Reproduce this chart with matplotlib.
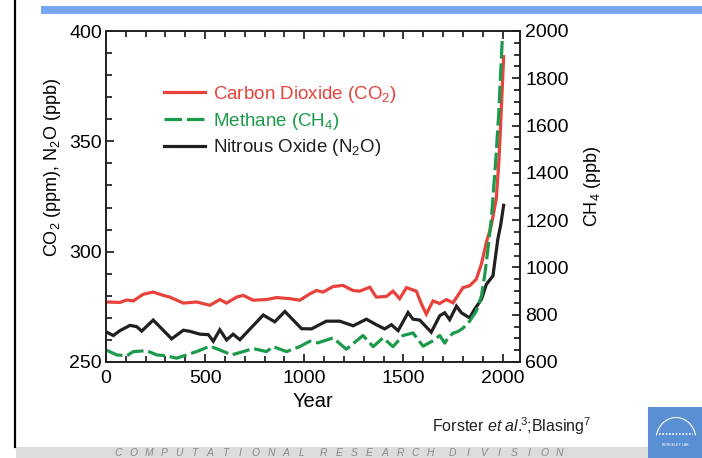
import matplotlib
matplotlib.use("Agg")
import matplotlib.pyplot as plt
from matplotlib.ticker import MultipleLocator
from matplotlib.patches import Rectangle, Arc
from matplotlib.lines import Line2D

plt.rcParams['font.family'] = ['Liberation Sans', 'DejaVu Sans']
plt.rcParams['mathtext.fontset'] = 'custom'
plt.rcParams['mathtext.rm'] = 'Liberation Sans'
plt.rcParams['mathtext.it'] = 'Liberation Sans:italic'
plt.rcParams['mathtext.bf'] = 'Liberation Sans:bold'

# ---------------- data ----------------
co2_years = [0, 70, 104, 138, 188, 238, 289, 322, 390, 457, 524, 574, 608, 658, 692,
             742, 809, 860, 927, 977, 1028, 1061, 1095, 1145, 1195, 1246, 1279, 1330,
             1363, 1414, 1447, 1481, 1515, 1565, 1590, 1615, 1649, 1682, 1716, 1750,
             1800, 1833, 1867, 1893, 1918, 1943, 1968, 1981, 1993, 2005]
co2 = [277.2, 277.0, 278.1, 277.7, 280.7, 281.7, 280.2, 279.4, 276.7, 277.2, 275.7,
       278.3, 276.7, 279.4, 280.2, 278.0, 278.3, 279.2, 278.7, 278.0, 280.9, 282.4,
       281.7, 284.2, 284.7, 282.4, 282.1, 283.9, 279.4, 279.7, 282.1, 278.7, 283.7,
       282.1, 276.4, 271.7, 277.7, 276.5, 278.3, 276.8, 283.7, 284.5, 287.5, 294.4,
       304.3, 311.9, 324.1, 340.9, 363.7, 388.4]

n2o_years = [0, 37, 70, 121, 155, 180, 238, 331, 390, 423, 474, 516, 541, 574, 608,
             641, 675, 793, 851, 902, 986, 1036, 1111, 1179, 1246, 1313, 1363, 1405,
             1439, 1473, 1523, 1548, 1582, 1640, 1683, 1708, 1733, 1767, 1792, 1833,
             1858, 1893, 1918, 1951, 1976, 1990, 2005]
n2o = [263.7, 262.0, 264.2, 266.6, 266.0, 264.0, 269.0, 260.5, 264.4, 263.9, 262.6,
       262.4, 259.4, 264.6, 260.0, 262.6, 260.1, 271.3, 268.2, 272.9, 265.1, 265.0,
       268.5, 268.5, 266.4, 269.4, 266.9, 265.0, 266.9, 264.2, 272.4, 269.4, 269.0,
       263.5, 271.0, 272.3, 269.2, 275.3, 272.3, 270.0, 273.8, 278.4, 285.2, 289.0,
       305.8, 312.0, 321.0]

ch4_years = [0, 54, 104, 138, 205, 255, 306, 356, 406, 457, 524, 574, 633, 692, 742,
             809, 843, 910, 977, 1028, 1069, 1145, 1212, 1296, 1347, 1397, 1447, 1498,
             1548, 1599, 1649, 1683, 1708, 1724, 1750, 1775, 1800, 1833, 1867, 1893,
             1909, 1926, 1943, 1965, 1981, 1993, 1998]
ch4 = [651, 630, 626, 644, 648, 630, 626, 616, 630, 644, 667, 651, 630, 644, 657,
       644, 665, 644, 665, 688, 681, 702, 654, 712, 665, 702, 665, 712, 723, 667,
       690, 712, 680, 701, 722, 729, 743, 772, 815, 879, 964, 1078, 1205, 1448, 1661,
       1875, 1960]

labels = ['Carbon Dioxide (CO$_2$)', 'Methane (CH$_4$)', 'Nitrous Oxide (N$_2$O)']
x_ticks = [0, 500, 1000, 1500, 2000]
left_ticks = [250, 300, 350, 400]
right_ticks = [600, 800, 1000, 1200, 1400, 1600, 1800, 2000]

RED = '#E8423B'
GREEN = '#1C9A4C'
BLACK = '#231F20'

# ---------------- figure ----------------
W, H = 702, 458
fig = plt.figure(figsize=(W / 100, H / 100), dpi=100)
fig.patch.set_facecolor('white')

def fx(px):
    return px / W

def fy(py):
    return 1 - py / H

LEFT, RIGHT, TOP, BOT = 106, 519.5, 31, 362
ax = fig.add_axes([fx(LEFT), fy(BOT), fx(RIGHT) - fx(LEFT), fy(TOP) - fy(BOT)])
ax2 = ax.twinx()

l_co2, = ax.plot(co2_years, co2, color=RED, lw=2.3, solid_joinstyle='miter', zorder=3)
l_n2o, = ax.plot(n2o_years, n2o, color=BLACK, lw=2.3, solid_joinstyle='miter', zorder=3)
l_ch4, = ax2.plot(ch4_years, ch4, color=GREEN, lw=2.3, dashes=(5.5, 1.5), zorder=2)

ax.set_xlim(0, 2085)
ax.set_ylim(250, 400)
ax2.set_ylim(600, 2000)

ax.set_xticks(x_ticks)
ax.set_yticks(left_ticks)
ax2.set_yticks(right_ticks)
ax.xaxis.set_minor_locator(MultipleLocator(100))
ax.yaxis.set_minor_locator(MultipleLocator(10))
ax2.yaxis.set_minor_locator(MultipleLocator(50))

for a in (ax, ax2):
    for s in a.spines.values():
        s.set_linewidth(1.2)
        s.set_color(BLACK)

TS = 14
ax.tick_params(axis='x', which='both', direction='in', top=True, bottom=True,
               labelsize=TS, width=1.1, pad=6)
ax.tick_params(axis='x', which='major', length=6)
ax.tick_params(axis='x', which='minor', length=4)
ax.tick_params(axis='y', which='both', direction='in', left=True, right=False,
               labelsize=TS, width=1.1, pad=3)
ax.tick_params(axis='y', which='major', length=6)
ax.tick_params(axis='y', which='minor', length=4)
ax2.tick_params(axis='y', which='both', direction='in', right=True, left=False,
                labelsize=TS, width=1.1, pad=4)
ax2.tick_params(axis='y', which='major', length=6)
ax2.tick_params(axis='y', which='minor', length=4)

W_AX = RIGHT - LEFT
H_AX = BOT - TOP
ax.set_xlabel('Year', fontsize=14.5)
ax.xaxis.set_label_coords((313 - LEFT) / W_AX, (BOT - 392) / H_AX)
ax.set_ylabel('CO$_2$ (ppm), N$_2$O (ppb)', fontsize=13)
ax.yaxis.set_label_coords((63 - LEFT) / W_AX, (BOT - 167) / H_AX)
ax2.set_ylabel('CH$_4$ (ppb)', fontsize=13)
ax2.yaxis.set_label_coords((582 - LEFT) / W_AX, (BOT - 186) / H_AX)

leg = ax.legend([l_co2, l_ch4, l_n2o], labels, loc='upper left',
                bbox_to_anchor=(0.14, 0.84), frameon=False, fontsize=13.5,
                handlelength=2.2, handletextpad=0.4, labelspacing=0.3,
                borderpad=0, borderaxespad=0,
                labelcolor=[RED, GREEN, BLACK])
leg.set_zorder(5)

# ---------------- slide decorations ----------------
fig.add_artist(Rectangle((fx(41), fy(13.5)), 1 - fx(41), fy(6) - fy(13.5),
                         transform=fig.transFigure, color='#7AA7F2', lw=0))
fig.add_artist(Line2D([fx(15), fx(15)], [fy(0), fy(447)], transform=fig.transFigure,
                      color='black', lw=1.6))
fig.add_artist(Rectangle((fx(16), 0), 1 - fx(16), fy(447),
                         transform=fig.transFigure, color='#DCDCDC', lw=0))

words = ['COMPUTATIONAL', 'RESEARCH', 'DIVISION']
pitch = 15.3
xpos = 118
for w in words:
    for ch in w:
        fig.text(fx(xpos), fy(452.5), ch, fontsize=7.5, style='italic', color='#8A8A8A',
                 ha='center', va='center')
        xpos += pitch
    xpos += 22 - pitch

fig.text(fx(432), fy(426), r'Forster $\mathit{et\ al.}\!\!^{3}$;Blasing$^{7}$',
         fontsize=11.5, ha='left', va='center', color=BLACK)

# logo
fig.add_artist(Rectangle((fx(648), 0), 1 - fx(648), fy(407),
                         transform=fig.transFigure, color='#5B8FD3', lw=0, zorder=5))
fig.add_artist(Arc((fx(676), fy(440)), fx(40), (fy(405) - fy(450)), theta1=20, theta2=160,
                   transform=fig.transFigure, color='white', lw=0.8, zorder=6))
fig.add_artist(Line2D([fx(659), fx(693)], [fy(434), fy(434)], transform=fig.transFigure,
                      color='white', lw=1.2, ls=(0, (1, 1)), zorder=6))
fig.text(fx(675), fy(445), 'BERKELEY LAB', fontsize=2.6, color='white',
         ha='center', va='center', zorder=7)

fig.savefig('out.png', dpi=100)
